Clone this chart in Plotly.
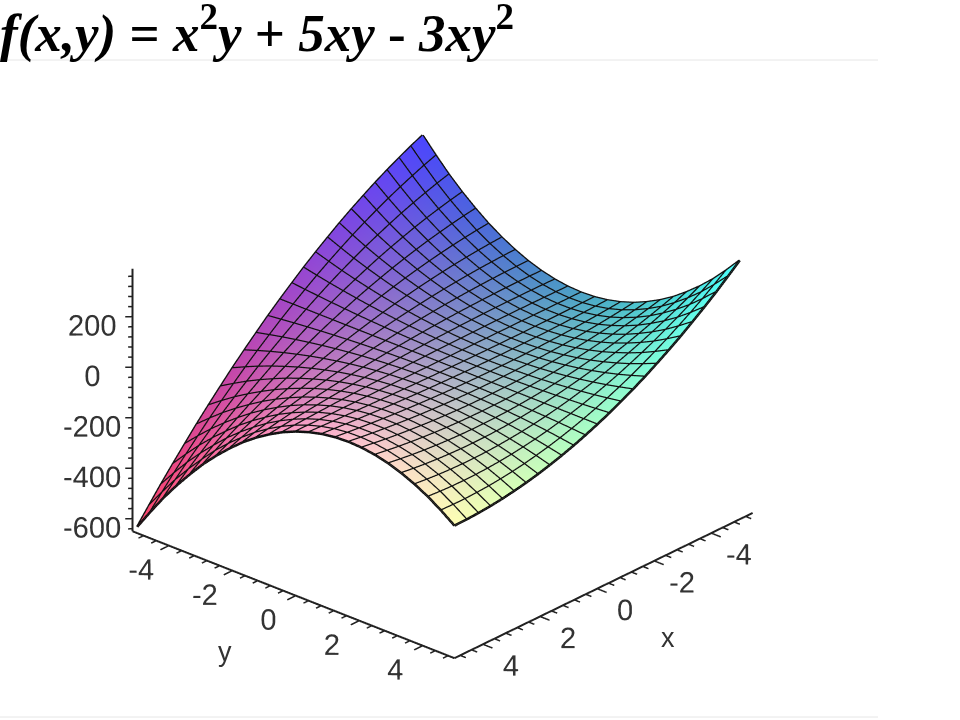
import plotly.graph_objects as go
import numpy as np

x_values = [-5, -4.58, -4.17, -3.75, -3.33, -2.92, -2.5, -2.08, -1.67, -1.25, -0.83, -0.42, 0,
            0.42, 0.83, 1.25, 1.67, 2.08, 2.5, 2.92, 3.33, 3.75, 4.17, 4.58, 5]
y_values = list(x_values)

# one row per y value, one column per x value
z_rows = [
 [375.0,353.3,329.9,304.7,277.8,249.1,218.8,186.6,152.8,117.2,79.9,40.8,0,-42.5,-86.8,-132.8,-180.6,-230.0,-281.3,-334.2,-388.9,-445.3,-503.5,-563.4,-625.0],
 [315.1,297.6,278.5,257.8,235.5,211.7,186.2,159.1,130.5,100.3,68.4,35.0,0,-36.6,-74.8,-114.6,-156.0,-198.9,-243.5,-289.6,-337.4,-386.7,-437.6,-490.2,-544.3],
 [260.4,246.7,231.5,214.8,196.8,177.2,156.2,133.8,110.0,84.6,57.9,29.7,0,-31.1,-63.7,-97.7,-133.1,-170.0,-208.3,-248.1,-289.4,-332.0,-376.2,-421.7,-468.8],
 [210.9,200.5,188.8,175.8,161.5,145.8,128.9,110.7,91.1,70.3,48.2,24.7,0,-26.0,-53.4,-82.0,-112.0,-143.2,-175.8,-209.6,-244.8,-281.2,-319.0,-358.1,-398.4],
 [166.7,159.1,150.5,140.6,129.6,117.5,104.2,89.7,74.1,57.3,39.4,20.3,0,-21.4,-44.0,-67.7,-92.6,-118.6,-145.8,-174.2,-203.7,-234.4,-266.2,-299.2,-333.3],
 [127.6,122.5,116.5,109.4,101.3,92.2,82.0,70.9,58.7,45.6,31.4,16.2,0,-17.2,-35.4,-54.7,-74.9,-96.2,-118.5,-141.8,-166.1,-191.4,-217.7,-245.1,-273.4],
 [93.8,90.7,86.8,82.0,76.4,69.9,62.5,54.3,45.1,35.2,24.3,12.6,0,-13.5,-27.8,-43.0,-59.0,-76.0,-93.8,-112.4,-131.9,-152.3,-173.6,-195.7,-218.8],
 [65.1,63.7,61.5,58.6,55.0,50.6,45.6,39.8,33.3,26.0,18.1,9.4,0,-10.1,-21.0,-32.6,-44.8,-57.9,-71.6,-86.1,-101.3,-117.2,-133.8,-151.2,-169.3],
 [41.7,41.4,40.5,39.1,37.0,34.4,31.2,27.5,23.1,18.2,12.7,6.7,0,-7.2,-15.0,-23.4,-32.4,-42.0,-52.1,-62.8,-74.1,-85.9,-98.4,-111.4,-125.0],
 [23.4,23.9,23.9,23.4,22.6,21.3,19.5,17.4,14.8,11.7,8.2,4.3,0,-4.8,-10.0,-15.6,-21.7,-28.2,-35.2,-42.5,-50.3,-58.6,-67.3,-76.4,-85.9],
 [10.4,11.1,11.6,11.7,11.6,11.1,10.4,9.4,8.1,6.5,4.6,2.5,0,-2.7,-5.8,-9.1,-12.7,-16.6,-20.8,-25.3,-30.1,-35.2,-40.5,-46.2,-52.1],
 [2.6,3.2,3.6,3.9,4.1,4.1,3.9,3.6,3.2,2.6,1.9,1.0,0,-1.2,-2.5,-3.9,-5.5,-7.2,-9.1,-11.1,-13.3,-15.6,-18.1,-20.7,-23.4],
 [0,0,0,0,0,0,0,0,0,0,0,0,0,0,0,0,0,0,0,0,0,0,0,0,0],
 [2.6,1.6,0.7,0,-0.6,-1.0,-1.3,-1.4,-1.4,-1.3,-1.0,-0.6,0,0.7,1.6,2.6,3.8,5.1,6.5,8.1,9.8,11.7,13.7,15.9,18.2],
 [10.4,8.0,5.8,3.9,2.3,1.0,0,-0.7,-1.2,-1.3,-1.2,-0.7,0,1.0,2.3,3.9,5.8,8.0,10.4,13.2,16.2,19.5,23.1,27.1,31.3],
 [23.4,19.1,15.2,11.7,8.7,6.1,3.9,2.2,0.9,0,-0.4,-0.4,0,0.9,2.2,3.9,6.1,8.7,11.7,15.2,19.1,23.4,28.2,33.4,39.1],
 [41.7,35.0,28.9,23.4,18.5,14.2,10.4,7.2,4.6,2.6,1.2,0.3,0,0.3,1.2,2.6,4.6,7.2,10.4,14.2,18.5,23.4,28.9,35.0,41.7],
 [65.1,55.7,47.0,39.1,31.8,25.3,19.5,14.5,10.1,6.5,3.6,1.4,0,-0.7,-0.7,0,1.4,3.6,6.5,10.1,14.5,19.5,25.3,31.8,39.1],
 [93.8,81.2,69.4,58.6,48.6,39.5,31.3,23.9,17.4,11.7,6.9,3.0,0,-2.2,-3.5,-3.9,-3.5,-2.2,0,3.0,6.9,11.7,17.4,23.9,31.3],
 [127.6,111.4,96.2,82.0,68.9,56.7,45.6,35.4,26.3,18.2,11.1,5.1,0,-4.1,-7.1,-9.1,-10.1,-10.1,-9.1,-7.1,-4.1,0,5.1,11.1,18.2],
 [166.7,146.4,127.3,109.4,92.6,77.0,62.5,49.2,37.0,26.0,16.2,7.5,0,-6.4,-11.6,-15.6,-18.5,-20.3,-20.8,-20.3,-18.5,-15.6,-11.6,-6.4,0],
 [210.9,186.2,162.8,140.6,119.8,100.3,82.0,65.1,49.5,35.2,22.1,10.4,0,-9.1,-16.9,-23.4,-28.6,-32.6,-35.2,-36.5,-36.5,-35.2,-32.6,-28.6,-23.4],
 [260.4,230.8,202.5,175.8,150.5,126.6,104.2,83.2,63.7,45.6,28.9,13.7,0,-12.3,-23.1,-32.6,-40.5,-47.0,-52.1,-55.7,-57.9,-58.6,-57.9,-55.7,-52.1],
 [315.1,280.1,246.7,214.8,184.6,156.0,128.9,103.4,79.6,57.3,36.6,17.5,0,-15.9,-30.2,-43.0,-54.1,-63.7,-71.6,-78.0,-82.8,-85.9,-87.5,-87.5,-85.9],
 [375.0,334.2,295.1,257.8,222.2,188.4,156.3,125.9,97.2,70.3,45.1,21.7,0,-20.0,-38.2,-54.7,-69.4,-82.5,-93.8,-103.3,-111.1,-117.2,-121.5,-124.1,-125.0],
]

x_ticks = [-4, -2, 0, 2, 4]
y_ticks = [-4, -2, 0, 2, 4]
z_ticks = [-600, -400, -200, 0, 200]
x_minor = [-5.2, -4.8, -4.4, -3.6, -3.2, -2.8, -2.4, -1.6, -1.2, -0.8, -0.4, 0.4, 0.8, 1.2, 1.6, 2.4, 2.8, 3.2, 3.6, 4.4, 4.8]
y_minor = [-4.8, -4.4, -3.6, -3.2, -2.8, -2.4, -1.6, -1.2, -0.8, -0.4, 0.4, 0.8, 1.2, 1.6, 2.4, 2.8, 3.2, 3.6, 4.4, 4.8]
z_minor = [-640, -560, -520, -480, -440, -360, -320, -280, -240, -160, -120, -80, -40, 40, 80, 120, 160, 240, 280, 320, 360]

title_html = ("<b><i>f(x,y)</i> = <i>x</i><sup>2</sup><i>y</i> + <i>5xy</i> - <i>3xy</i><sup>2</sup></b>")

# box of the scene (a little larger than the drawn axes so tick marks fit)
X_RANGE = [-5.45, 5.55]
Y_RANGE = [-5.55, 5.45]
Z_RANGE = [-690, 390]
# where the drawn axis lines sit
AX_X = [-5.45, 5]
AX_Y = [-5.15, 5]
AX_Z = [-650, 390]

X, Y = np.meshgrid(x_values, y_values)
Z = np.array(z_rows, dtype=float)
n = len(x_values)
idx = np.arange(n * n).reshape(n, n)
a = idx[:-1, :-1].ravel(); b = idx[:-1, 1:].ravel()
c = idx[1:, 1:].ravel(); d = idx[1:, :-1].ravel()
ii = np.concatenate([a, a]); jj = np.concatenate([b, c]); kk = np.concatenate([c, d])

R = 75 + (X + 5) / 10 * 180
G = 70 + (Y + 5) / 10 * 185
B = 105 + (Z + 625) / 1000 * 150
colors = [f"rgb({int(r)},{int(g)},{int(bb)})" for r, g, bb in zip(R.ravel(), G.ravel(), B.ravel())]

fig = go.Figure()

lx, ly, lz = [], [], []
for r in range(n):
    lx += list(X[r]) + [None]; ly += list(Y[r]) + [None]; lz += list(Z[r]) + [None]
for q in range(n):
    lx += list(X[:, q]) + [None]; ly += list(Y[:, q]) + [None]; lz += list(Z[:, q]) + [None]
fig.add_trace(go.Scatter3d(x=lx, y=ly, z=lz, mode="lines",
                           line=dict(color="#111111", width=5), hoverinfo="skip", showlegend=False))

fig.add_trace(go.Mesh3d(x=X.ravel(), y=Y.ravel(), z=Z.ravel(), i=ii, j=jj, k=kk,
                        vertexcolor=colors, flatshading=False,
                        lighting=dict(ambient=1, diffuse=0, specular=0, roughness=1, fresnel=0),
                        hoverinfo="skip", showscale=False))

# axis lines
ax_x = [AX_X[0], AX_X[1], None, AX_X[1], AX_X[1], None, AX_X[1], AX_X[1]]
ax_y = [AX_Y[1], AX_Y[1], None, AX_Y[1], AX_Y[0], None, AX_Y[0], AX_Y[0]]
ax_z = [AX_Z[0], AX_Z[0], None, AX_Z[0], AX_Z[0], None, AX_Z[0], AX_Z[1]]
fig.add_trace(go.Scatter3d(x=ax_x, y=ax_y, z=ax_z, mode="lines",
                           line=dict(color="#222222", width=4), hoverinfo="skip", showlegend=False))

def tick_segments(xt, yt, zt, minor_len, major_len):
    tx, ty, tz = [], [], []
    for vals, L in ((xt[0], minor_len), (xt[1], major_len)):
        for v in vals:
            tx += [v, v, None]; ty += [AX_Y[1], AX_Y[1] + 0.3 * L, None]; tz += [AX_Z[0], AX_Z[0], None]
    for vals, L in ((yt[0], minor_len), (yt[1], major_len)):
        for v in vals:
            tx += [AX_X[1], AX_X[1] + 0.3 * L, None]; ty += [v, v, None]; tz += [AX_Z[0], AX_Z[0], None]
    for vals, L in ((zt[0], minor_len), (zt[1], major_len)):
        for v in vals:
            tx += [AX_X[1], AX_X[1] + 0.12 * L, None]; ty += [AX_Y[0], AX_Y[0] - 0.12 * L, None]; tz += [v, v, None]
    return tx, ty, tz

tx, ty, tz = tick_segments((x_minor, x_ticks), (y_minor, y_ticks), (z_minor, z_ticks), 0.6, 1.0)
fig.add_trace(go.Scatter3d(x=tx, y=ty, z=tz, mode="lines",
                           line=dict(color="#222222", width=3), hoverinfo="skip", showlegend=False))

def axis(rng, ticks):
    return dict(range=rng, tickmode="array", tickvals=ticks, ticktext=[str(t) for t in ticks],
                showbackground=False, showgrid=False, zeroline=False, showspikes=False,
                showline=False, ticks="", tickangle=0,
                tickfont=dict(family="Liberation Sans", size=18.7, color="#333333"),
                title=dict(text=""))

E = 2.0
S = 1.3333
label_font = dict(family="Liberation Sans", size=27, color="#333333")
fig.update_layout(
    width=960, height=720, autosize=False,
    paper_bgcolor="white", plot_bgcolor="white", showlegend=False,
    margin=dict(l=0, r=0, t=0, b=0),
    scene=dict(
        domain=dict(x=[0, 871 / 960], y=[0, 640.4 / 720]),
        xaxis=axis(X_RANGE, x_ticks),
        yaxis=axis(Y_RANGE, y_ticks),
        zaxis=axis(Z_RANGE, z_ticks),
        aspectmode="manual",
        aspectratio=dict(x=1.10 * S, y=1.10 * S, z=0.711 * S),
        camera=dict(projection=dict(type="orthographic"),
                    eye=dict(x=0.668 * E, y=0.601 * E, z=0.438 * E),
                    up=dict(x=0, y=0, z=1)),
    ),
    annotations=[dict(text=title_html, xref="paper", yref="paper", x=0, y=1 - 30 / 720,
                      xanchor="left", yanchor="middle", showarrow=False, xshift=-2,
                      font=dict(family="Liberation Serif", size=53, color="black")),
                 dict(text="x", xref="paper", yref="paper", x=668 / 960, y=1 - 638 / 720,
                      xanchor="center", yanchor="middle", showarrow=False, font=label_font),
                 dict(text="y", xref="paper", yref="paper", x=225 / 960, y=1 - 652 / 720,
                      xanchor="center", yanchor="middle", showarrow=False, font=label_font)],
    shapes=[dict(type="line", xref="paper", yref="paper", x0=0, x1=878 / 960, y0=1 - 60 / 720, y1=1 - 60 / 720,
                 line=dict(color="#e6e6e6", width=1)),
            dict(type="line", xref="paper", yref="paper", x0=0, x1=878 / 960, y0=1 - 717 / 720, y1=1 - 717 / 720,
                 line=dict(color="#e6e6e6", width=1))],
)
fig.write_html("out.html", config=dict(displayModeBar=False),
               post_script="document.body.style.margin='0';document.body.style.overflow='hidden';")
